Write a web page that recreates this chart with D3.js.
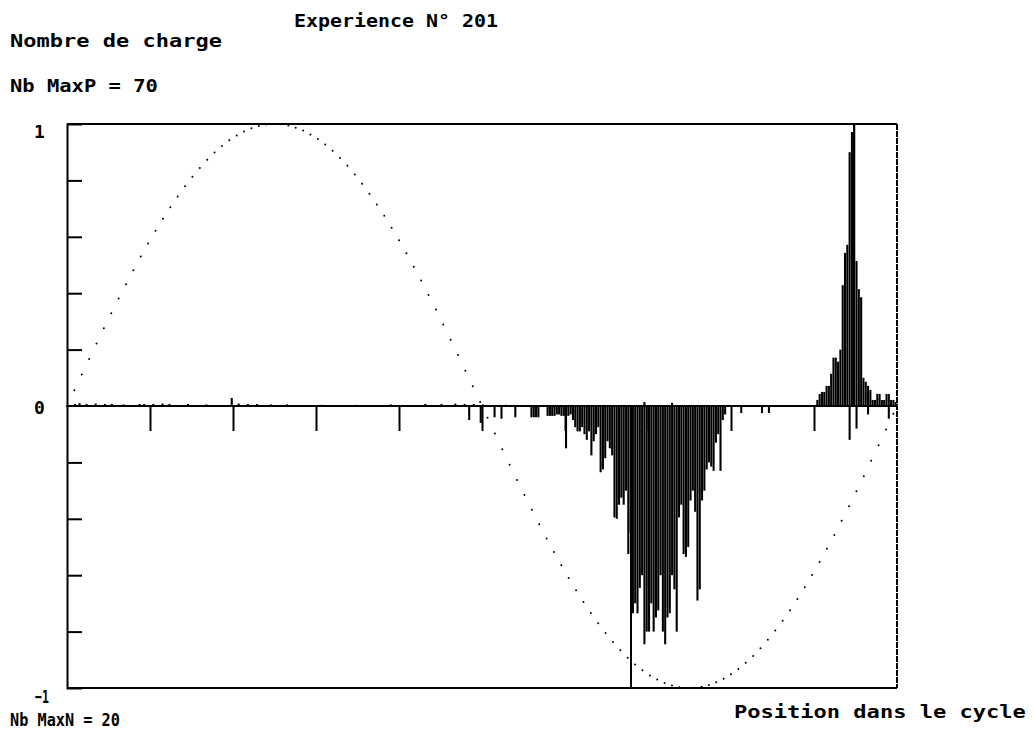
<!DOCTYPE html>
<html>
<head>
<meta charset="utf-8">
<script src="https://cdn.jsdelivr.net/npm/d3@7"></script>
<style>
  body { margin: 0; background: #fff; }
  text { font-family: "DejaVu Sans Mono", monospace; font-weight: bold; fill: #000; }
</style>
</head>
<body>
<script>
// experience 201 : charge counts per 1 degree of phase
var maxP = 70, maxN = 20;

var posPhase = [3, 5, 8, 12, 16, 19, 24, 31, 33, 37, 41, 44, 52, 60, 71, 74, 78, 82, 88, 95,
  110, 125, 140, 155, 162, 168, 172, 176, 180, 190, 250, 262,
  325, 326, 327, 328, 329, 330, 331, 332, 333, 334, 335, 336, 337, 338, 339, 340, 341, 342, 343,
  344, 345, 346, 347, 348, 349, 350, 351, 352, 353, 354, 355, 356, 357, 358, 359];
var posCount = [0.5, 0.7, 0.5, 0.6, 0.5, 0.5, 0.4, 0.5, 0.5, 0.5, 0.6, 0.5, 0.5, 0.4, 2, 0.6, 0.5, 0.5, 0.4, 0.4,
  0.3, 0.3, 0.4, 0.5, 0.5, 0.6, 0.5, 0.5, 0.4, 0.3, 1, 0.8,
  1.5, 3, 3.5, 3.5, 5, 5, 8, 12, 12, 11, 14, 30, 38, 40, 63, 68, 70, 36, 29,
  27, 7, 6, 5, 4, 1.5, 1.5, 3, 3, 1.5, 1.5, 3, 3, 1.5, 1.5, 1];

var negPhase = [174, 179, 185, 188, 194, 201, 202, 203, 204, 208, 209, 210, 211, 212, 213, 214, 215, 216, 217,
  218, 219, 220, 221, 222, 223, 224, 225, 226, 227, 228, 229, 230, 231, 232, 233, 234, 235, 236, 237, 238, 239,
  240, 241, 242, 243, 244, 245, 246, 247, 248, 249, 250, 251, 252, 253, 254, 255, 256, 257, 258, 259,
  260, 261, 262, 263, 264, 265, 266, 267, 268, 269, 270, 271, 272, 273, 274, 275, 276, 277, 278, 279,
  280, 281, 282, 283, 284, 285, 292, 301, 304, 339, 342, 347, 356];
var negCount = [1, 1.2, 0.8, 0.9, 0.8, 0.8, 0.8, 0.8, 0.8, 0.7, 0.7, 0.7, 0.7, 0.6, 0.6, 0.7, 0.7, 3, 0.7,
  0.6, 1, 1.5, 1.8, 1.8, 1.5, 2, 2.4, 1.8, 3.5, 2.5, 2, 1.5, 4.7, 4.5, 3.7, 2.5, 3, 3.5, 7.9, 8, 7,
  6.5, 7, 6, 10.5, 9, 14.7, 14, 14.7, 12.9, 12, 16.9, 16, 16, 14, 16, 15, 14.5, 12, 16, 16.9,
  15, 14.7, 12, 13, 16, 7.9, 7, 10.5, 10.7, 10, 6.7, 6, 7.5, 13.8, 13, 6.7, 6, 4.5, 4, 4.3,
  4.6, 2.6, 2, 4.6, 1, 0.6, 0.5, 0.5, 0.5, 2.4, 1.6, 0.6, 0.9];

// marker lines (phase, side)
var markerPhase = [244.6, 341.2];
var markerSide = [-1, 1];

var xTicks = [36, 72, 108, 144, 180, 216, 252, 288, 324];
var yTicks = [-0.8, -0.6, -0.4, -0.2, 0.2, 0.4, 0.6, 0.8];

var W = 1034, H = 740;
var svg = d3.select('body').append('svg').attr('width', W).attr('height', H);

var x = d3.scaleLinear().domain([0, 360]).range([67, 897]);
var y = d3.scaleLinear().domain([-1, 1]).range([688, 124]);
var binW = x(1) - x(0);

// titles: tall bitmap-ish glyphs, squeezed or stretched horizontally to the measured width
function label(t, px, py, len, size) {
  var el = svg.append('text').attr('x', 0).attr('y', 0)
    .attr('font-size', size)
    .text(t);
  var sx = len ? len / el.node().getComputedTextLength() : 1;
  el.attr('transform', 'translate(' + px + ',' + py + ') scale(' + sx + ',1)');
}
label('Experience N\u00b0 201', 294, 27, 204, 18);
label('Nombre de charge', 10, 47, 212, 18);
label('Nb MaxP = ' + maxP, 10, 92, 148, 18);
label('Nb MaxN = ' + maxN, 10, 726, 110, 18);
label('Position dans le cycle', 734, 718, 292, 18);
label('1', 34, 138, 0, 18);
label('0', 34, 414, 0, 18);
label('\u22121', 35, 703, 14, 18);

var plot = svg.append('g');

// bars
var pos = posPhase.map(function (p, i) { return {p: p, v: posCount[i] / maxP}; });
var neg = negPhase.map(function (p, i) { return {p: p, v: negCount[i] / maxN}; });

plot.selectAll('rect.pos').data(pos).enter().append('rect')
  .attr('class', 'pos')
  .attr('x', function (d) { return x(d.p); })
  .attr('width', binW * 0.9)
  .attr('y', function (d) { return y(d.v); })
  .attr('height', function (d) { return y(0) - y(d.v); })
  .attr('fill', '#000');

plot.selectAll('rect.neg').data(neg).enter().append('rect')
  .attr('class', 'neg')
  .attr('x', function (d) { return x(d.p); })
  .attr('width', binW * 0.9)
  .attr('y', y(0))
  .attr('height', function (d) { return y(-d.v) - y(0); })
  .attr('fill', '#000');

var lines = svg.append('g').attr('shape-rendering', 'crispEdges');

// markers
markerPhase.forEach(function (p, i) {
  lines.append('line')
    .attr('x1', x(p)).attr('x2', x(p))
    .attr('y1', y(0)).attr('y2', y(markerSide[i]))
    .attr('stroke', '#000').attr('stroke-width', 1.5);
});

// frame
lines.append('line').attr('x1', x(0)).attr('x2', x(360)).attr('y1', y(1)).attr('y2', y(1))
  .attr('stroke', '#000').attr('stroke-width', 2);
lines.append('line').attr('x1', x(0)).attr('x2', x(360)).attr('y1', y(-1)).attr('y2', y(-1))
  .attr('stroke', '#000').attr('stroke-width', 2.5);
lines.append('line').attr('x1', x(360)).attr('x2', x(360)).attr('y1', y(1)).attr('y2', y(-1))
  .attr('stroke', '#000').attr('stroke-width', 1.5).attr('stroke-dasharray', '6,1');
lines.append('line').attr('x1', x(0)).attr('x2', x(360)).attr('y1', y(0)).attr('y2', y(0))
  .attr('stroke', '#000').attr('stroke-width', 2.5);

// y axis, ticks pointing into the plot
var yAxis = svg.append('g').attr('transform', 'translate(' + x(0) + ',0)')
  .call(d3.axisRight(y).tickValues(yTicks).tickSize(15).tickFormat(''));
yAxis.select('.domain').attr('stroke-width', 2);
yAxis.selectAll('.tick line').attr('stroke-width', 2);

// x ticks under the zero line
var xAxis = svg.append('g').attr('transform', 'translate(0,' + y(0) + ')')
  .call(d3.axisBottom(x).tickValues(xTicks).tickSize(25).tickFormat(''));
xAxis.select('.domain').remove();
xAxis.selectAll('.tick line').attr('stroke-width', 2);

// supply voltage reference (sine over one cycle), dotted
var wave = d3.range(0, 360, 3.2).map(function (p) { return [p, Math.sin(p * Math.PI / 180)]; });
svg.append('g').selectAll('circle').data(wave).enter().append('circle')
  .attr('cx', function (d) { return x(d[0]); })
  .attr('cy', function (d) { return y(d[1]); })
  .attr('r', 1)
  .attr('fill', '#000');
</script>
</body>
</html>
